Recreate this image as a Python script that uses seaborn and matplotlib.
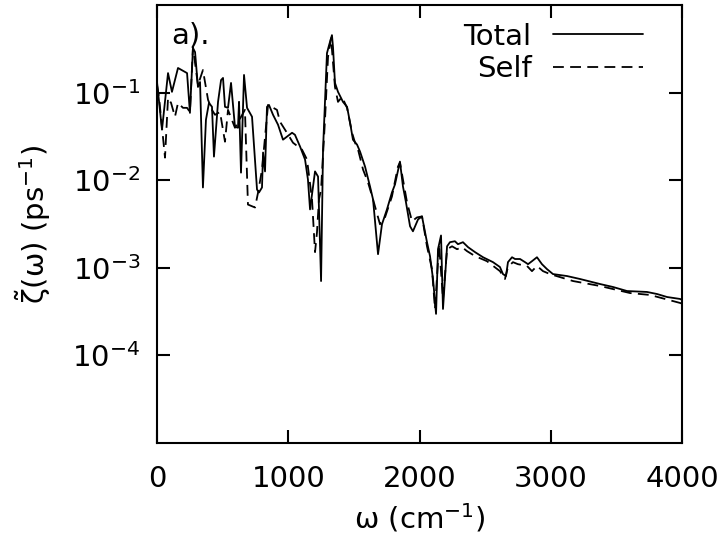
import numpy as np
import pandas as pd
import matplotlib
matplotlib.use("Agg")
import matplotlib.pyplot as plt
import matplotlib.ticker as mticker
import seaborn as sns

# ---- data ----
omega_total = [0, 38, 84, 114, 160, 229, 251, 274, 290, 312, 328, 350, 373, 396, 419, 434,
               465, 488, 503, 518, 541, 564, 594, 617, 625, 640, 663, 686, 724, 762, 777,
               800, 808, 823, 838, 853, 884, 922, 960, 1029, 1051, 1090, 1128, 1150, 1166,
               1204, 1227, 1250, 1265, 1295, 1311, 1333, 1341, 1356, 1379, 1417, 1448, 1471,
               1493, 1524, 1547, 1585, 1623, 1646, 1684, 1714, 1752, 1790, 1813, 1851, 1874,
               1897, 1928, 1950, 1989, 2019, 2057, 2080, 2103, 2126, 2141, 2164, 2179, 2210,
               2232, 2270, 2293, 2331, 2370, 2423, 2484, 2560, 2613, 2636, 2659, 2674, 2705,
               2728, 2766, 2804, 2827, 2857, 2895, 2933, 2971, 3017, 3124, 3223, 3375, 3474,
               3581, 3733, 3810, 3886, 3985, 4000]
zeta_total = [0.132, 0.0377, 0.167, 0.102, 0.191, 0.167, 0.0587, 0.322, 0.290, 0.116, 0.132,
              0.00826, 0.049, 0.0763, 0.0688, 0.0186, 0.0784, 0.139, 0.147, 0.0688, 0.067,
              0.129, 0.0407, 0.0397, 0.0784, 0.0122, 0.159, 0.067, 0.053, 0.00783, 0.00724,
              0.00826, 0.0207, 0.0126, 0.0688, 0.0724, 0.0558, 0.043, 0.029, 0.0348, 0.033,
              0.0242, 0.0172, 0.0102, 0.00464, 0.0126, 0.011, 0.000706, 0.0223, 0.282, 0.348,
              0.453, 0.330, 0.129, 0.102, 0.0784, 0.0688, 0.0453, 0.029, 0.0255, 0.0212,
              0.0143, 0.00848, 0.00604, 0.00143, 0.00314, 0.00464, 0.00724, 0.00892, 0.0163,
              0.00848, 0.00558, 0.00298, 0.00261, 0.00357, 0.00386, 0.00196, 0.00136,
              0.000745, 0.000298, 0.00163, 0.00234, 0.000339, 0.00176, 0.00196, 0.00201,
              0.00186, 0.00196, 0.00172, 0.00151, 0.00132, 0.00116, 0.00102, 0.000848,
              0.000805, 0.00116, 0.00132, 0.00126, 0.00126, 0.00116, 0.0011, 0.00119, 0.00132,
              0.0011, 0.000967, 0.000848, 0.000805, 0.000745, 0.000653, 0.000604, 0.000543,
              0.00053, 0.000502, 0.000464, 0.000441, 0.00043]

omega_self = [0, 15, 61, 84, 107, 137, 160, 198, 229, 251, 274, 312, 350, 389, 419, 442, 480,
              518, 541, 594, 670, 693, 747, 770, 800, 846, 914, 937, 990, 1036, 1105, 1143,
              1181, 1204, 1219, 1234, 1250, 1280, 1303, 1326, 1356, 1379, 1410, 1448, 1486,
              1509, 1532, 1570, 1608, 1646, 1699, 1737, 1790, 1836, 1851, 1905, 1943, 1981,
              2019, 2057, 2095, 2118, 2149, 2179, 2210, 2248, 2286, 2324, 2362, 2423, 2514,
              2613, 2651, 2674, 2712, 2750, 2819, 2857, 2895, 2941, 2994, 3170, 3375, 3604,
              3756, 3985, 4000]
zeta_self = [0.122, 0.0893, 0.0181, 0.087, 0.0763, 0.053, 0.0763, 0.067, 0.067, 0.06, 0.33,
             0.122, 0.181, 0.0826, 0.0635, 0.0558, 0.06, 0.0275, 0.0635, 0.0397, 0.0635,
             0.00527, 0.00488, 0.00724, 0.0132, 0.0724, 0.0635, 0.0465, 0.0348, 0.0268,
             0.0223, 0.0172, 0.00604, 0.00151, 0.00255, 0.00604, 0.0078, 0.049, 0.255, 0.419,
             0.116, 0.0784, 0.0893, 0.067, 0.0348, 0.0268, 0.0223, 0.0132, 0.00942, 0.00604,
             0.00314, 0.00376, 0.00652, 0.0143, 0.0159, 0.00558, 0.0034, 0.00376, 0.00386,
             0.00176, 0.000967, 0.000339, 0.00186, 0.00044, 0.00163, 0.00176, 0.00163,
             0.00172, 0.00155, 0.00136, 0.00119, 0.000916, 0.000745, 0.00102, 0.00116,
             0.0011, 0.00105, 0.000916, 0.00105, 0.000916, 0.000848, 0.000706, 0.00062,
             0.000515, 0.00049, 0.000397, 0.00039]

series_labels = ["Total", "Self"]
x_ticks = [0, 1000, 2000, 3000, 4000]
y_ticks = [1e-4, 1e-3, 1e-2, 1e-1]

# ---- style ----
sns.set_theme(style="ticks")
plt.rcParams["font.family"] = ["DejaVu Sans"]
plt.rcParams["mathtext.fontset"] = "dejavusans"
plt.rcParams["mathtext.default"] = "regular"
plt.rcParams["axes.unicode_minus"] = False
plt.rcParams["text.color"] = "black"
plt.rcParams["axes.labelcolor"] = "black"
plt.rcParams["xtick.color"] = "black"
plt.rcParams["ytick.color"] = "black"
plt.rcParams["axes.edgecolor"] = "black"

df_total = pd.DataFrame({"omega": omega_total, "zeta": zeta_total})
df_self = pd.DataFrame({"omega": omega_self, "zeta": zeta_self})

fig = plt.figure(figsize=(7.2, 5.46), dpi=100)
ax = fig.add_axes([157 / 720, 1 - 443 / 546, 525 / 720, 438 / 546])

sns.lineplot(data=df_total, x="omega", y="zeta", ax=ax, color="black", lw=1.3,
             label=series_labels[0], sort=False)
sns.lineplot(data=df_self, x="omega", y="zeta", ax=ax, color="black", lw=1.3,
             dashes=False, label=series_labels[1], sort=False)
ax.lines[1].set_dashes((6, 3.5))

ax.set_yscale("log")
ax.set_xlim(0, 4000)
ax.set_ylim(1e-5, 1.0)
ax.set_xticks(x_ticks)
ax.set_yticks(y_ticks)
ax.yaxis.set_minor_locator(mticker.NullLocator())
ax.xaxis.set_minor_locator(mticker.NullLocator())
ax.yaxis.set_major_formatter(mticker.LogFormatterSciNotation())

for s in ax.spines.values():
    s.set_linewidth(1.5)
    s.set_color("black")
ax.tick_params(axis="both", which="major", direction="in", length=9.5, width=1.5,
               top=True, right=True, labelsize=21, colors="black", pad=12)
ax.tick_params(axis="x", pad=16)

ax.set_xlabel("ω (cm$^{-1}$)", fontsize=21, labelpad=6, color="black")
ax.set_ylabel(r"$\tilde{\zeta}$(ω) (ps$^{-1}$)", fontsize=21, labelpad=14, color="black")

ax.text(0.027, 0.913, "a).", transform=ax.transAxes, fontsize=21, ha="left",
        va="baseline", color="black")

leg = ax.legend(loc="upper right", bbox_to_anchor=(0.926, 0.96), frameon=False,
                markerfirst=False, fontsize=21, handlelength=3.1, handletextpad=0.72,
                labelspacing=0.15, borderpad=0, borderaxespad=0)
for t in leg.get_texts():
    t.set_ha("right")
    t.set_color("black")
leg.legend_handles[1].set_dashes((6, 3.5))

fig.savefig("out.png", dpi=100)
